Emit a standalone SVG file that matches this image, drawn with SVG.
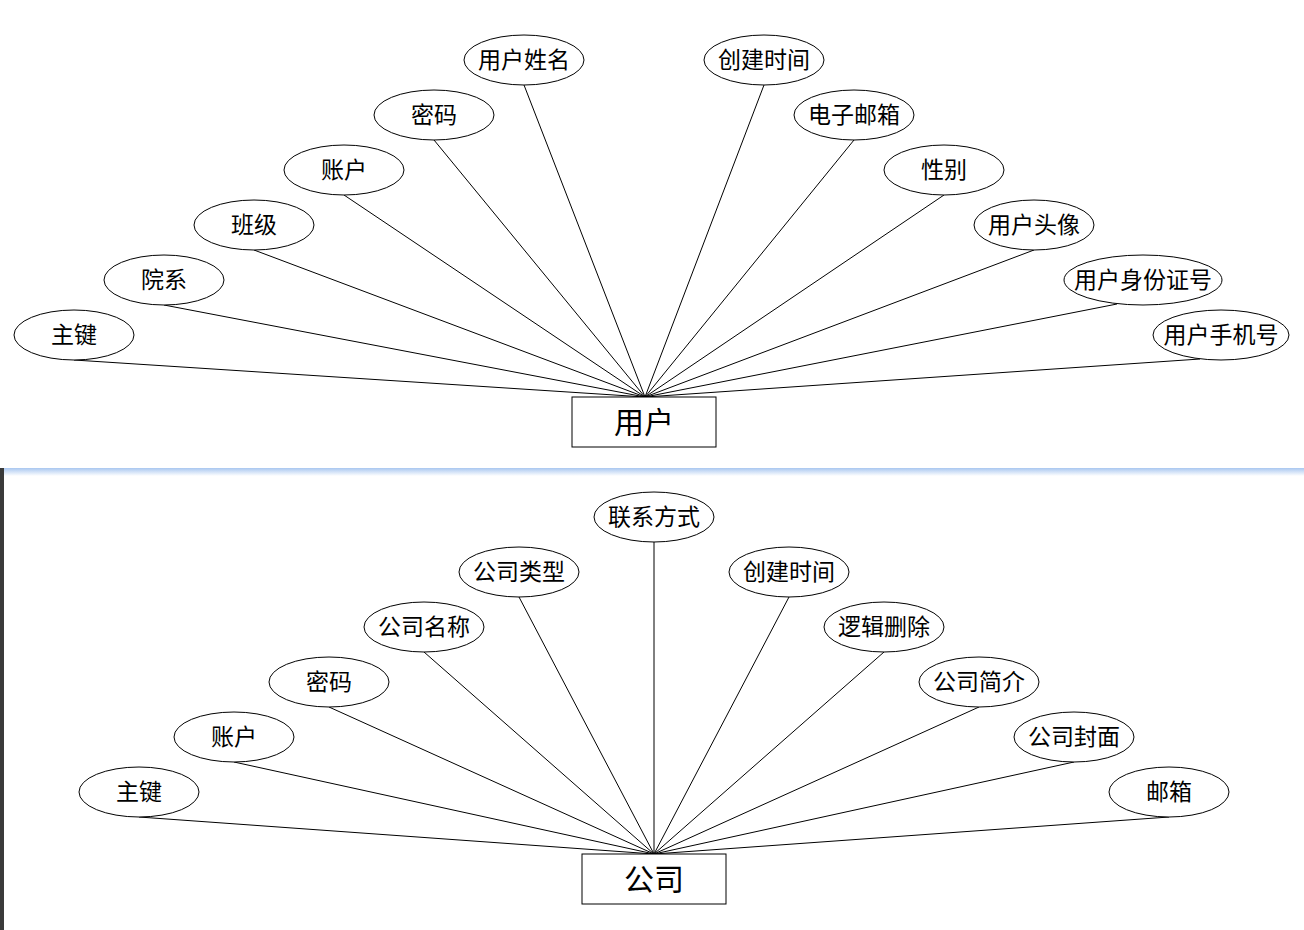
<svg xmlns="http://www.w3.org/2000/svg" width="1304" height="930" viewBox="0 0 1304 930">
<defs>
<linearGradient id="sep" x1="0" y1="0" x2="0" y2="1">
<stop offset="0" stop-color="#a9c7f0"/>
<stop offset="1" stop-color="#ffffff"/>
</linearGradient>
<style>
.e{fill:#fff;stroke:#000;stroke-width:1}
.r{fill:#fff;stroke:#000;stroke-width:1}
.t{font-family:"Noto Sans CJK SC","Noto Sans",sans-serif;font-size:23px;fill:#000;text-anchor:middle;dominant-baseline:central}
.big{font-size:30px}
.c line{stroke:#000;stroke-width:1}
</style>
</defs>
<rect x="0" y="0" width="1304" height="930" fill="#fff"/>
<rect x="4" y="468" width="1300" height="8" fill="url(#sep)"/>
<rect x="0" y="468" width="4" height="462" fill="#3a3a3a"/>

<g id="connectors-top" class="c">
<line x1="74" y1="360" x2="645" y2="397"/>
<line x1="164" y1="305" x2="645" y2="397"/>
<line x1="254" y1="250" x2="645" y2="397"/>
<line x1="344" y1="195" x2="645" y2="397"/>
<line x1="434" y1="140" x2="645" y2="397"/>
<line x1="524" y1="85" x2="645" y2="397"/>
<line x1="764" y1="85" x2="645" y2="397"/>
<line x1="854" y1="140" x2="645" y2="397"/>
<line x1="944" y1="195" x2="645" y2="397"/>
<line x1="1034" y1="250" x2="645" y2="397"/>
<line x1="1117" y1="304" x2="645" y2="397"/>
<line x1="1200" y1="359" x2="645" y2="397"/>
</g>

<g id="user"><rect class="r" x="572" y="397" width="144" height="50"/><text class="t big" x="644" y="420">用户</text></g>
<g id="u-zhujian"><ellipse class="e" cx="74" cy="335" rx="60" ry="25"/><text class="t" x="74" y="333">主键</text></g>
<g id="u-yuanxi"><ellipse class="e" cx="164" cy="280" rx="60" ry="25"/><text class="t" x="164" y="278">院系</text></g>
<g id="u-banji"><ellipse class="e" cx="254" cy="225" rx="60" ry="25"/><text class="t" x="254" y="223">班级</text></g>
<g id="u-zhanghu"><ellipse class="e" cx="344" cy="170" rx="60" ry="25"/><text class="t" x="344" y="168">账户</text></g>
<g id="u-mima"><ellipse class="e" cx="434" cy="115" rx="60" ry="25"/><text class="t" x="434" y="113">密码</text></g>
<g id="u-xingming"><ellipse class="e" cx="524" cy="60" rx="60" ry="25"/><text class="t" x="524" y="58">用户姓名</text></g>
<g id="u-chuangjian"><ellipse class="e" cx="764" cy="60" rx="60" ry="25"/><text class="t" x="764" y="58">创建时间</text></g>
<g id="u-youxiang"><ellipse class="e" cx="854" cy="115" rx="60" ry="25"/><text class="t" x="854" y="113">电子邮箱</text></g>
<g id="u-xingbie"><ellipse class="e" cx="944" cy="170" rx="60" ry="25"/><text class="t" x="944" y="168">性别</text></g>
<g id="u-touxiang"><ellipse class="e" cx="1034" cy="225" rx="60" ry="25"/><text class="t" x="1034" y="223">用户头像</text></g>
<g id="u-shenfen"><ellipse class="e" cx="1143" cy="280" rx="79" ry="25"/><text class="t" x="1143" y="278">用户身份证号</text></g>
<g id="u-shouji"><ellipse class="e" cx="1221" cy="335" rx="68" ry="25"/><text class="t" x="1221" y="333">用户手机号</text></g>

<g id="connectors-bottom" class="c">
<line x1="139" y1="817" x2="654" y2="854"/>
<line x1="234" y1="762" x2="654" y2="854"/>
<line x1="329" y1="707" x2="654" y2="854"/>
<line x1="424" y1="652" x2="654" y2="854"/>
<line x1="519" y1="597" x2="654" y2="854"/>
<line x1="654" y1="542" x2="654" y2="854"/>
<line x1="789" y1="597" x2="654" y2="854"/>
<line x1="884" y1="652" x2="654" y2="854"/>
<line x1="979" y1="707" x2="654" y2="854"/>
<line x1="1074" y1="762" x2="654" y2="854"/>
<line x1="1169" y1="817" x2="654" y2="854"/>
</g>

<g id="company"><rect class="r" x="582" y="854" width="144" height="50"/><text class="t big" x="654" y="877">公司</text></g>
<g id="c-zhujian"><ellipse class="e" cx="139" cy="792" rx="60" ry="25"/><text class="t" x="139" y="790">主键</text></g>
<g id="c-zhanghu"><ellipse class="e" cx="234" cy="737" rx="60" ry="25"/><text class="t" x="234" y="735">账户</text></g>
<g id="c-mima"><ellipse class="e" cx="329" cy="682" rx="60" ry="25"/><text class="t" x="329" y="680">密码</text></g>
<g id="c-mingcheng"><ellipse class="e" cx="424" cy="627" rx="60" ry="25"/><text class="t" x="424" y="625">公司名称</text></g>
<g id="c-leixing"><ellipse class="e" cx="519" cy="572" rx="60" ry="25"/><text class="t" x="519" y="570">公司类型</text></g>
<g id="c-lianxi"><ellipse class="e" cx="654" cy="517" rx="60" ry="25"/><text class="t" x="654" y="515">联系方式</text></g>
<g id="c-chuangjian"><ellipse class="e" cx="789" cy="572" rx="60" ry="25"/><text class="t" x="789" y="570">创建时间</text></g>
<g id="c-shanchu"><ellipse class="e" cx="884" cy="627" rx="60" ry="25"/><text class="t" x="884" y="625">逻辑删除</text></g>
<g id="c-jianjie"><ellipse class="e" cx="979" cy="682" rx="60" ry="25"/><text class="t" x="979" y="680">公司简介</text></g>
<g id="c-fengmian"><ellipse class="e" cx="1074" cy="737" rx="60" ry="25"/><text class="t" x="1074" y="735">公司封面</text></g>
<g id="c-youxiang"><ellipse class="e" cx="1169" cy="792" rx="60" ry="25"/><text class="t" x="1169" y="790">邮箱</text></g>
</svg>
